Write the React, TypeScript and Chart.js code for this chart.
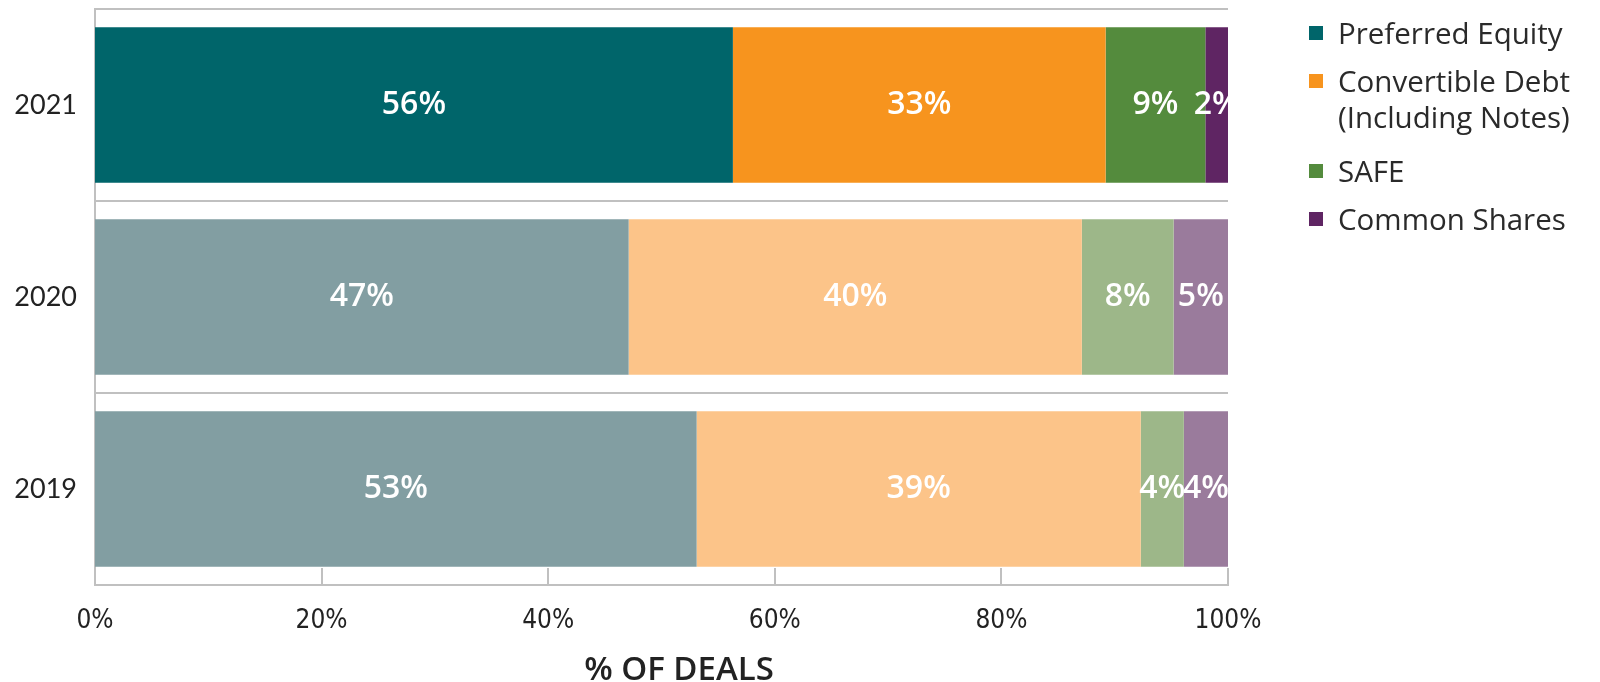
import React, { useEffect, useRef } from "react";
import { Chart, registerables } from "chart.js";

Chart.register(...registerables);

// ---- data ----
const years = ["2021", "2020", "2019"];
const seriesNames = ["Preferred Equity", "Convertible Debt (Including Notes)", "SAFE", "Common Shares"];
const legendLines = [["Preferred Equity"], ["Convertible Debt", "(Including Notes)"], ["SAFE"], ["Common Shares"]];
const preferredEquity = [56.3, 47.1, 53.1];
const convertibleDebt = [32.9, 40.0, 39.2];
const safe = [8.8, 8.1, 3.8];
const commonShares = [2.0, 4.8, 3.9];
const xTickValues = [0, 20, 40, 60, 80, 100];
const axisTitle = "% OF DEALS";

// ---- styles ----
const strongColors = ["#00656A", "#F7941E", "#548B3D", "#5F2563"];
const fadedColors = ["#829EA2", "#FCC489", "#9DB789", "#9A7B9C"];
const gridColor = "#c0c0c0";
const textColor = "#222222";
const mainFont = "Lato, 'Open Sans', sans-serif";
const wideFont = "'Open Sans', Lato, sans-serif";
const narrowFont = "'Liberation Sans Narrow', 'DejaVu Sans Condensed', 'Liberation Sans', sans-serif";

const overlayPlugin = {
  id: "overlay",
  afterDatasetsDraw(chart: any) {
    const ctx = chart.ctx;
    const xScale = chart.scales.x;
    const area = chart.chartArea;
    ctx.save();
    // inward ticks at bottom
    ctx.strokeStyle = gridColor;
    ctx.lineWidth = 2;
    xTickValues.forEach((v) => {
      const px = Math.round(xScale.getPixelForValue(v));
      ctx.beginPath();
      ctx.moveTo(px, area.bottom);
      ctx.lineTo(px, area.bottom - 17);
      ctx.stroke();
    });
    // data labels
    ctx.fillStyle = "#ffffff";
    ctx.font = `600 32px ${wideFont}`;
    ctx.textAlign = "center";
    ctx.textBaseline = "middle";
    chart.data.datasets.forEach((ds: any, di: number) => {
      const meta = chart.getDatasetMeta(di);
      meta.data.forEach((el: any, i: number) => {
        const p = el.getProps(["x", "y", "base"], true);
        const cx = (p.x + p.base) / 2;
        ctx.fillText(`${Math.round(ds.data[i])}%`, cx, p.y);
      });
    });
    // axis title
    ctx.fillStyle = textColor;
    ctx.font = `600 33px ${wideFont}`;
    ctx.textBaseline = "middle";
    ctx.fillText(axisTitle, 679, 671);
    ctx.restore();
  },
};

export default function App() {
  const canvasRef = useRef<HTMLCanvasElement | null>(null);

  useEffect(() => {
    const canvas = canvasRef.current;
    if (!canvas) return;
    const seriesValues = [preferredEquity, convertibleDebt, safe, commonShares];
    const chart = new Chart(canvas, {
      type: "bar",
      data: {
        labels: years,
        datasets: seriesValues.map((vals, si) => ({
          label: seriesNames[si],
          data: vals,
          backgroundColor: years.map((_, yi) => (yi === 0 ? strongColors[si] : fadedColors[si])),
          borderWidth: 0,
          barPercentage: 0.81,
          categoryPercentage: 1,
        })),
      },
      options: {
        indexAxis: "y",
        responsive: false,
        animation: false,
        devicePixelRatio: 1,
        layout: { padding: { top: 9, right: 372, bottom: 0, left: 0 } },
        plugins: {
          legend: { display: false },
          tooltip: { enabled: false },
          title: { display: false },
        },
        scales: {
          x: {
            stacked: true,
            min: 0,
            max: 100,
            afterBuildTicks: (scale: any) => {
              scale.ticks = xTickValues.map((v) => ({ value: v }));
            },
            afterFit: (scale: any) => {
              scale.height = 97;
              scale.paddingLeft = 0;
              scale.paddingRight = 0;
            },
            grid: { display: false, drawTicks: false },
            border: { display: true, color: gridColor, width: 2 },
            ticks: {
              color: textColor,
              font: { family: narrowFont, size: 26 },
              padding: 21,
              maxRotation: 0,
              autoSkip: false,
              callback: (v: any) => `${v}%`,
            },
          },
          y: {
            stacked: true,
            afterFit: (scale: any) => {
              scale.width = 95;
              scale.paddingTop = 0;
              scale.paddingBottom = 0;
            },
            grid: { color: gridColor, lineWidth: 2, drawTicks: false, offset: true },
            border: { display: true, color: gridColor, width: 2 },
            ticks: {
              color: textColor,
              font: { family: mainFont, size: 27 },
              padding: 18,
            },
          },
        },
      },
      plugins: [overlayPlugin],
    } as any);
    return () => chart.destroy();
  }, []);

  const centers = [33, 81, 171, 219];

  return (
    <div style={{ position: "absolute", left: 0, top: 0, width: 1600, height: 682, background: "#ffffff" }}>
      <canvas ref={canvasRef} width={1600} height={682} style={{ display: "block" }} />
      {legendLines.map((lines, i) => (
        <div key={i}>
          <div
            style={{
              position: "absolute",
              left: 1309,
              top: centers[i] - 7,
              width: 14,
              height: 14,
              background: strongColors[i],
            }}
          />
          <div
            style={{
              position: "absolute",
              left: 1338,
              top: centers[i] - 18,
              fontFamily: wideFont,
              fontSize: 29.5,
              lineHeight: "36px",
              color: "#2a2a2a",
              whiteSpace: "nowrap",
            }}
          >
            {lines.map((l, j) => (
              <div key={j}>{l}</div>
            ))}
          </div>
        </div>
      ))}
    </div>
  );
}
